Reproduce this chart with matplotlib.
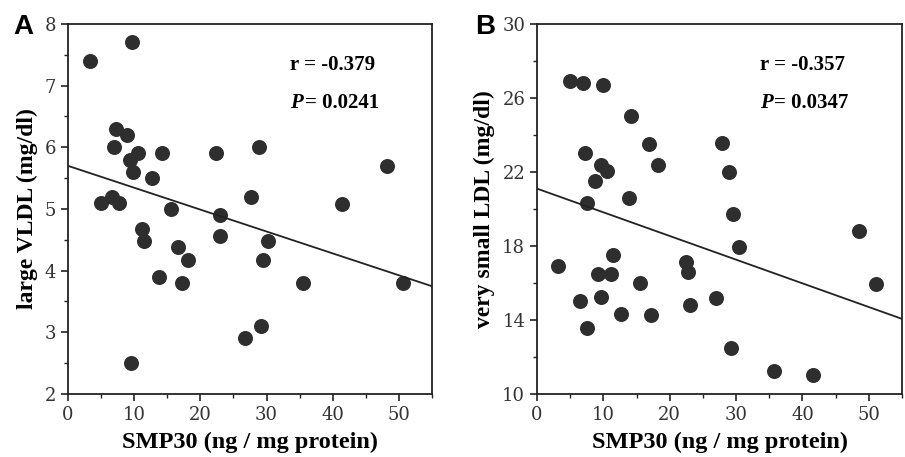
import matplotlib
matplotlib.use('Agg')
import matplotlib.pyplot as plt
from matplotlib.ticker import MultipleLocator, FixedLocator

# panel A: SMP30 vs large VLDL
smp30_a = [3.4, 9.7, 7.3, 8.9, 7.0, 10.6, 9.3, 9.8, 14.2, 12.7, 22.4, 28.9,
           27.6, 5.0, 6.7, 7.7, 15.6, 22.9, 23.0, 11.2, 11.5, 16.7, 18.2,
           13.7, 17.2, 29.5, 30.3, 29.1, 26.8, 9.6, 35.5, 50.7, 41.4, 48.2]
vldl_a = [7.4, 7.7, 6.3, 6.2, 6.0, 5.9, 5.8, 5.6, 5.9, 5.5, 5.9, 6.0,
          5.2, 5.1, 5.2, 5.1, 5.0, 4.9, 4.57, 4.68, 4.48, 4.38, 4.17,
          3.9, 3.8, 4.17, 4.48, 3.1, 2.9, 2.5, 3.8, 3.8, 5.08, 5.7]
fit_a = (5.70, -0.0355)   # intercept, slope
stats_a = ('-0.379', '0.0241')
yticks_a = [2, 3, 4, 5, 6, 7, 8]

# panel B: SMP30 vs very small LDL
smp30_b = [5.0, 6.9, 9.9, 14.2, 16.9, 18.3, 27.8, 28.9, 7.2, 9.6, 10.6, 8.8,
           7.5, 13.9, 29.5, 30.4, 3.2, 11.5, 9.2, 11.2, 22.4, 22.8, 15.5,
           6.5, 9.7, 26.9, 12.6, 17.2, 23.1, 7.6, 29.3, 35.7, 41.6, 48.5, 51.1]
ldl_b = [26.9, 26.8, 26.7, 25.0, 23.5, 22.4, 23.55, 22.0, 23.0, 22.4, 22.05, 21.5,
         20.3, 20.6, 19.75, 17.95, 16.9, 17.5, 16.5, 16.5, 17.15, 16.6, 16.0,
         15.0, 15.25, 15.2, 14.3, 14.27, 14.8, 13.55, 12.47, 11.26, 11.03, 18.8, 15.95]
fit_b = (21.1, -0.128)
stats_b = ('-0.357', '0.0347')
yticks_b = [10, 14, 18, 22, 26, 30]

serif = 'Liberation Serif'
tickfont = 'DejaVu Serif'
fig = plt.figure(figsize=(9.05, 4.57), dpi=100)
axA = fig.add_axes([0.0751, 0.1379, 0.4022, 0.8096])
axB = fig.add_axes([0.5934, 0.1379, 0.4033, 0.8096])


def draw_panel(ax, x, y, fit, stats, yticks, ymin, ylabel):
    ax.plot(x, y, 'o', color='#2e2e2e', markersize=10.8, markeredgewidth=0)
    xs = [0, 55]
    ax.plot(xs, [fit[0] + fit[1] * v for v in xs], color='#222222', lw=1.3)
    ax.set_xlim(0, 55)
    ax.set_ylim(yticks[0], yticks[-1])
    ax.xaxis.set_major_locator(MultipleLocator(10))
    ax.xaxis.set_minor_locator(MultipleLocator(5))
    ax.yaxis.set_major_locator(FixedLocator(yticks))
    ax.yaxis.set_minor_locator(MultipleLocator(ymin))
    ax.tick_params(which='major', direction='out', length=5, width=1.2,
                   labelsize=13, colors='#222222', labelcolor='#333333')
    ax.tick_params(which='minor', direction='out', length=3, width=1.0,
                   colors='#222222')
    for lab in ax.get_xticklabels() + ax.get_yticklabels():
        lab.set_fontfamily(tickfont)
    for s in ax.spines.values():
        s.set_linewidth(1.3)
        s.set_color('#222222')
    ax.set_xlabel('SMP30 (ng / mg protein)', fontfamily=serif,
                  fontweight='bold', fontsize=17.5, labelpad=6)
    ax.set_ylabel(ylabel, fontfamily=serif, fontweight='bold', fontsize=17,
                  labelpad=5)
    ax.text(0.61, 0.89, 'r = ' + stats[0], transform=ax.transAxes,
            fontfamily=serif, fontweight='bold', fontsize=15, va='center')
    ax.text(0.61, 0.786, 'P', transform=ax.transAxes, fontfamily=serif,
            fontweight='bold', fontstyle='italic', fontsize=15, va='center')
    ax.text(0.65, 0.786, '= ' + stats[1], transform=ax.transAxes,
            fontfamily=serif, fontweight='bold', fontsize=15, va='center')


draw_panel(axA, smp30_a, vldl_a, fit_a, stats_a, yticks_a, 0.5,
           'large VLDL (mg/dl)')
draw_panel(axB, smp30_b, ldl_b, fit_b, stats_b, yticks_b, 2,
           'very small LDL (mg/dl)')

fig.text(0.015, 0.94, 'A', fontfamily='Liberation Sans', fontweight='bold',
         fontsize=20, va='center')
fig.text(0.525, 0.94, 'B', fontfamily='Liberation Sans', fontweight='bold',
         fontsize=20, va='center')

fig.savefig('out.png', dpi=100)
